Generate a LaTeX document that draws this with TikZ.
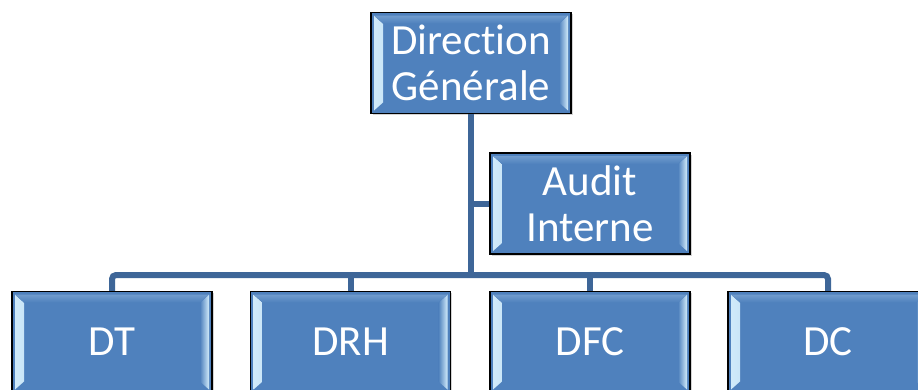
\documentclass[tikz,border=0pt]{standalone}
\usepackage{fontspec}
\setmainfont[RawFeature=-liga]{Carlito}
\usetikzlibrary{shadows}

\definecolor{boxblue}{HTML}{4F81BD}
\definecolor{linkblue}{HTML}{3E6698}
\definecolor{bevel}{HTML}{D2ECFB}

\tikzset{
  orgbox/.style={draw=black, line width=1.3pt, fill=boxblue, text=white,
    minimum width=200pt, minimum height=101pt, inner sep=0pt, align=center,
    font=\fontsize{43}{46}\selectfont,
    drop shadow={shadow xshift=1.5pt, shadow yshift=-1.5pt, opacity=0.35},
    path picture={
      % light bevel on both sides
      \fill[left color=bevel, right color=boxblue]
        ([xshift=3pt,yshift=-3pt]path picture bounding box.north west) -- ++(9pt,-8pt)
        -- ([xshift=12pt,yshift=11pt]path picture bounding box.south west)
        -- ([xshift=3pt,yshift=3pt]path picture bounding box.south west) -- cycle;
      \fill[right color=bevel, left color=boxblue]
        ([xshift=-3pt,yshift=-3pt]path picture bounding box.north east) -- ++(-9pt,-8pt)
        -- ([xshift=-12pt,yshift=11pt]path picture bounding box.south east)
        -- ([xshift=-3pt,yshift=3pt]path picture bounding box.south east) -- cycle;
      \fill[top color=boxblue!75!bevel, bottom color=boxblue]
        ([xshift=3pt,yshift=-3pt]path picture bounding box.north west) -- ++(9pt,-8pt)
        -- ([xshift=-12pt,yshift=-11pt]path picture bounding box.north east)
        -- ([xshift=-3pt,yshift=-3pt]path picture bounding box.north east) -- cycle;
    }},
  link/.style={draw=linkblue, line width=6pt, rounded corners=4pt}
}

\begin{document}
\begin{tikzpicture}[x=1pt, y=-1pt]
  \useasboundingbox (0,0) rectangle (918,389);
  \clip (0,0) rectangle (918,389);

  \node[orgbox] (dg) at (471,63) {Direction\\Générale};
  \node[orgbox] (audit) at (590,203.5) {Audit\\Interne};
  \node[orgbox] (dt) at (112,342) {DT};
  \node[orgbox] (drh) at (350.5,342) {DRH};
  \node[orgbox] (dfc) at (590,342) {DFC};
  \node[orgbox] (dc) at (828,342) {DC};

  \coordinate (bus) at (471,275);

  % trunk, staff branch and the bus to the departments
  \draw[link] (dg.south) -- (bus);
  \draw[link] (audit.west) -- (audit.west -| dg.south);
  \draw[link] (dt.north) |- (bus) -| (dc.north);
  \foreach \to in {drh,dfc}
    \draw[link] (\to.north) -- (\to.north |- bus);
\end{tikzpicture}
\end{document}
